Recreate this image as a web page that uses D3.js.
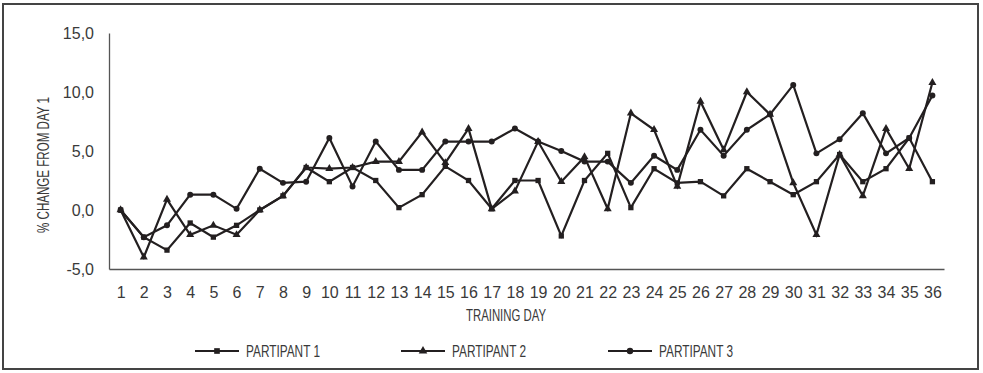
<!DOCTYPE html>
<html>
<head>
<meta charset="utf-8">
<script src="https://cdn.jsdelivr.net/npm/d3@7"></script>
<style>
  body { margin: 0; background: #fff; }
  svg { display: block; }
</style>
</head>
<body>
<div id="wrapper"></div>
<script>
const days = [1, 2, 3, 4, 5, 6, 7, 8, 9, 10, 11, 12, 13, 14, 15, 16, 17, 18,
  19, 20, 21, 22, 23, 24, 25, 26, 27, 28, 29, 30, 31, 32, 33, 34, 35, 36]
const yTicks = [-5, 0, 5, 10, 15]
const seriesNames = ["PARTIPANT 1", "PARTIPANT 2", "PARTIPANT 3"]

const p1 = [0, -2.3, -3.4, -1.1, -2.3, -1.3, 0, 1.2, 3.6, 2.4, 3.6, 2.5, 0.2, 1.3, 3.7, 2.5, 0.1, 2.5,
  2.5, -2.2, 2.5, 4.8, 0.2, 3.5, 2.3, 2.4, 1.2, 3.5, 2.4, 1.3, 2.4, 4.7, 2.4, 3.5, 6.1, 2.4]
const p2 = [0, -4.0, 0.9, -2.1, -1.3, -2.1, 0, 1.2, 3.6, 3.5, 3.6, 4.1, 4.1, 6.6, 4.0, 6.9, 0.1, 1.6,
  5.8, 2.4, 4.5, 0.1, 8.2, 6.8, 2.0, 9.2, 5.1, 10.0, 8.1, 2.3, -2.1, 4.7, 1.2, 6.9, 3.5, 10.8]
const p3 = [0, -2.3, -1.3, 1.3, 1.3, 0.1, 3.5, 2.3, 2.4, 6.1, 2.0, 5.8, 3.4, 3.4, 5.8, 5.8, 5.8, 6.9,
  5.8, 5.0, 4.1, 4.1, 2.3, 4.6, 3.4, 6.8, 4.6, 6.8, 8.1, 10.6, 4.8, 6.0, 8.2, 4.8, 6.1, 9.7]

const series = [p1, p2, p3].map((values, i) => ({
  name: seriesNames[i],
  symbol: [d3.symbolSquare, d3.symbolTriangle, d3.symbolCircle][i],
  values: values.map((v, j) => ({ day: days[j], value: v }))
}))

const ink = "#231f20"
const font = "Liberation Sans, Arial, sans-serif"
const dimensions = { width: 983, height: 373 }
const plot = { left: 109, right: 944, top: 33, bottom: 269 }

const wrapper = d3.select("#wrapper")
  .append("svg")
    .attr("width", dimensions.width)
    .attr("height", dimensions.height)

// frame
wrapper.append("rect")
  .attr("x", 3).attr("y", 4)
  .attr("width", 975).attr("height", 365)
  .attr("fill", "none")
  .attr("stroke", "#444")
  .attr("stroke-width", 2)

const xScale = d3.scalePoint()
  .domain(days)
  .range([plot.left, plot.right])
  .padding(0.5)

const yScale = d3.scaleLinear()
  .domain([-5, 15])
  .range([plot.bottom, plot.top])

// y axis
const yAxis = wrapper.append("g")
  .attr("transform", `translate(${plot.left},0)`)
  .call(d3.axisLeft(yScale).tickValues(yTicks).tickSize(0).tickPadding(15)
    .tickFormat(d => d3.format(".1f")(d).replace(".", ",").replace("−", "-")))
yAxis.select(".domain").attr("stroke", "#555").attr("stroke-width", 1.3)
yAxis.selectAll("text")
  .attr("font-family", font)
  .attr("font-size", 16)
  .attr("fill", "#3a3a3a")

// x axis
const xAxis = wrapper.append("g")
  .attr("transform", `translate(0,${plot.bottom})`)
  .call(d3.axisBottom(xScale).tickSize(0).tickPadding(18))
xAxis.select(".domain").attr("stroke", "#555").attr("stroke-width", 1.3)
xAxis.selectAll("text")
  .attr("font-family", font)
  .attr("font-size", 16)
  .attr("fill", "#3a3a3a")

// condensed titles
wrapper.append("text")
  .attr("transform", "translate(49,165) rotate(-90)")
  .attr("text-anchor", "middle")
  .attr("font-family", font)
  .attr("font-size", 17)
  .attr("fill", "#3a3a3a")
  .attr("textLength", 136)
  .attr("lengthAdjust", "spacingAndGlyphs")
  .text("% CHANGE FROM DAY 1")

wrapper.append("text")
  .attr("x", 506).attr("y", 321)
  .attr("text-anchor", "middle")
  .attr("font-family", font)
  .attr("font-size", 17)
  .attr("fill", "#3a3a3a")
  .attr("textLength", 80)
  .attr("lengthAdjust", "spacingAndGlyphs")
  .text("TRAINING DAY")

// lines
const line = d3.line()
  .x(d => xScale(d.day))
  .y(d => yScale(d.value))

const bounds = wrapper.append("g")

bounds.selectAll(".series")
  .data(series)
  .enter().append("path")
    .attr("class", "series")
    .attr("d", d => line(d.values))
    .attr("fill", "none")
    .attr("stroke", ink)
    .attr("stroke-width", 2.2)

series.forEach(s => {
  bounds.selectAll(null)
    .data(s.values)
    .enter().append("path")
      .attr("transform", d => `translate(${xScale(d.day)},${yScale(d.value)})`)
      .attr("d", d3.symbol().type(s.symbol).size(28))
      .attr("fill", ink)
})

// legend
const legendX = [195, 401, 608]
const legend = wrapper.append("g").selectAll("g")
  .data(series)
  .enter().append("g")
    .attr("transform", (d, i) => `translate(${legendX[i]},351)`)

legend.append("line")
  .attr("x1", 0).attr("x2", 44)
  .attr("stroke", ink)
  .attr("stroke-width", 2.2)

legend.append("path")
  .attr("transform", "translate(22,0)")
  .attr("d", d => d3.symbol().type(d.symbol).size(32)())
  .attr("fill", ink)

legend.append("text")
  .attr("x", 51).attr("y", 6)
  .attr("font-family", font)
  .attr("font-size", 17)
  .attr("fill", "#3a3a3a")
  .attr("textLength", 74)
  .attr("lengthAdjust", "spacingAndGlyphs")
  .text(d => d.name)
</script>
</body>
</html>
